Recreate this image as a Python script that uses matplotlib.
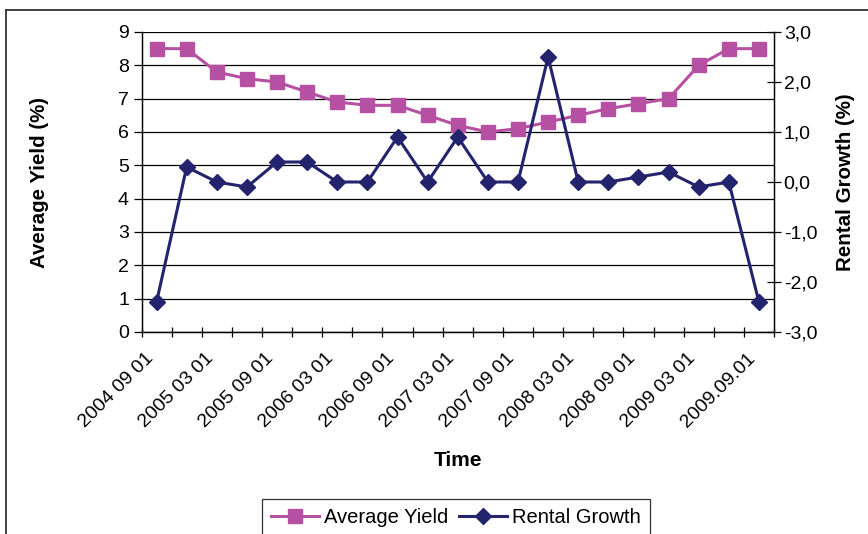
import numpy as np
import matplotlib
matplotlib.use("Agg")
import matplotlib.pyplot as plt
from matplotlib.ticker import FuncFormatter, FixedLocator
from matplotlib.lines import Line2D

plt.rcParams['font.family'] = ['Liberation Sans', 'DejaVu Sans']

# data
dates = ["2004 09 01", "2004 12 01", "2005 03 01", "2005 06 01", "2005 09 01",
         "2005 12 01", "2006 03 01", "2006 06 01", "2006 09 01", "2006 12 01",
         "2007 03 01", "2007 06 01", "2007 09 01", "2007 12 01", "2008 03 01",
         "2008 06 01", "2008 09 01", "2008 12 01", "2009 03 01", "2009 06 01",
         "2009.09.01"]
avg_yield = [8.5, 8.5, 7.8, 7.6, 7.5, 7.2, 6.9, 6.8, 6.8, 6.5, 6.2,
             6.0, 6.1, 6.3, 6.5, 6.7, 6.85, 7.0, 8.0, 8.5, 8.5]
rental_growth = [-2.4, 0.3, 0.0, -0.1, 0.4, 0.4, 0.0, 0.0, 0.9, 0.0, 0.9,
                 0.0, 0.0, 2.5, 0.0, 0.0, 0.1, 0.2, -0.1, 0.0, -2.4]

pink = '#b650a2'
navy = '#23236e'

W, H = 868, 534
fig = plt.figure(figsize=(W / 100, H / 100), dpi=100)
left, right, top, bottom = 141.5, 774, 32, 332
ax = fig.add_axes([left / W, 1 - bottom / H, (right - left) / W, (bottom - top) / H])
ax2 = ax.twinx()

x = np.arange(len(dates))
l1, = ax.plot(x, avg_yield, color=pink, lw=2.2, marker='s', ms=10,
              markeredgecolor=pink, label='Average Yield')
l2, = ax2.plot(x, rental_growth, color=navy, lw=2.2, marker='D', ms=8.5,
               markeredgecolor=navy, label='Rental Growth')

ax.set_xlim(-0.5, len(dates) - 0.5)
ax.set_ylim(0, 9)
ax.set_yticks(range(0, 10))
ax2.set_ylim(-3, 3)
ax2.set_yticks(np.arange(-3, 3.01, 1))
ax2.yaxis.set_major_formatter(FuncFormatter(lambda v, p: f"{v:.1f}".replace('.', ',')))

ax.yaxis.grid(True, color='black', lw=0.9)
ax.set_axisbelow(True)

# category ticks between points, labels on every other point
ax.xaxis.set_major_locator(FixedLocator(x[::2]))
ax.set_xticklabels(dates[::2], rotation=45, ha='right', va='top', fontsize=14)
ax.xaxis.set_minor_locator(FixedLocator(np.arange(-0.5, len(dates), 1)))
ax.tick_params(axis='x', which='major', length=0, pad=13)
ax.tick_params(axis='x', which='minor', length=7, direction='inout', width=0.9)
ax.tick_params(axis='y', length=6, width=0.9, labelsize=14, pad=3)
ax2.tick_params(axis='y', length=10, width=0.9, direction='inout', labelsize=14, pad=2)

for a in (ax, ax2):
    for s in a.spines.values():
        s.set_linewidth(0.9)
    a.spines['top'].set_visible(False)

ax.set_ylabel('Average Yield (%)', fontsize=14.8, fontweight='bold')
ax2.set_ylabel('Rental Growth (%)', fontsize=14.8, fontweight='bold')
ax.set_xlabel('Time', fontsize=15, fontweight='bold')
ax.yaxis.set_label_coords(-(left - 40) / (right - left), 0.5)
ax2.yaxis.set_label_coords((845 - left) / (right - left), 0.5)
ax.xaxis.set_label_coords(0.5, -(461 - bottom) / (bottom - top))
ax.yaxis.label.set_va('center')
ax2.yaxis.label.set_va('center')
ax.xaxis.label.set_va('center')

leg = fig.legend(handles=[l1, l2], loc='upper center', ncol=2,
                 bbox_to_anchor=(456 / W, 1 - 499 / H), fontsize=14.5,
                 frameon=True, fancybox=False, edgecolor='black',
                 handlelength=2.4, columnspacing=0.5, handletextpad=0.25,
                 borderpad=0.45, borderaxespad=0)
leg.get_frame().set_linewidth(0.9)

# outer chart border (left and top visible)
fig.add_artist(Line2D([6 / W, 6 / W], [0, 1 - 10 / H], color='#333333', lw=1.3,
                      transform=fig.transFigure))
fig.add_artist(Line2D([6 / W, 1], [1 - 10 / H, 1 - 10 / H], color='#333333', lw=1.3,
                      transform=fig.transFigure))

fig.savefig('out.png', dpi=100)
